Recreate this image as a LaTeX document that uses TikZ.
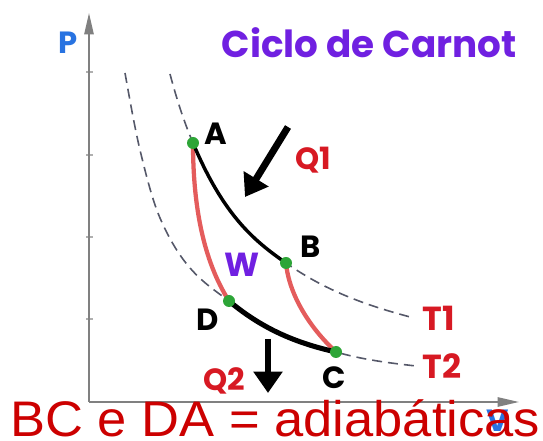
\documentclass[tikz,border=0pt]{standalone}
\usepackage{fontspec}
\setmainfont{Liberation Sans}
\newfontfamily\handfont{Poppins}
\usetikzlibrary{arrows.meta}

\tikzset{every picture/.style={line width=0.75pt}}
\tikzset{
  axisline/.style={color={rgb, 255:red, 128; green, 128; blue, 128}, line width=1.2, -{Triangle[length=16pt,width=7pt]}},
  axistick/.style={color={rgb, 255:red, 175; green, 175; blue, 175}, line width=0.8},
  isotherm/.style={color={rgb, 255:red, 85; green, 88; blue, 105}, line width=1.2, dash pattern={on 7.5pt off 4.5pt}},
  isoline/.style={color={rgb, 255:red, 0; green, 0; blue, 0}, line width=2.6},
  adiabat/.style={color={rgb, 255:red, 228; green, 92; blue, 92}, line width=3.2},
  statedot/.style={fill={rgb, 255:red, 45; green, 165; blue, 55}},
  heatarrow/.style={line width=5.2, -{Triangle[length=16pt,width=21pt]}},
  ptlabel/.style={font=\handfont\bfseries\fontsize{23}{23}\selectfont},
  redlabel/.style={ptlabel, color={rgb, 255:red, 215; green, 25; blue, 35}},
  purplelabel/.style={ptlabel, color={rgb, 255:red, 112; green, 32; blue, 225}},
}

\begin{document}
\begin{tikzpicture}[x=0.75pt,y=0.75pt,yscale=-1,xscale=1]
\useasboundingbox (0,0) rectangle (543,441);

% state points and curve ends
\coordinate (O) at (89,402);
\coordinate (Ptop) at (89,13);
\coordinate (Vend) at (519,402);
\coordinate (A) at (193,143);
\coordinate (B) at (286,263);
\coordinate (C) at (336,352);
\coordinate (D) at (229,301);
\coordinate (T1start) at (170,74);
\coordinate (T1end) at (414,318);
\coordinate (T2start) at (125,73);
\coordinate (T2end) at (416,366);

%Shape: Axis 2D
\foreach \ty in {72,155,237,319} {\draw [axistick] (86,\ty) -- (93,\ty);}
\draw [axisline] (O) -- (Ptop);
\draw [axisline] (O) -- (Vend);

%Curve Lines: isotherm T1
\draw [isotherm] (T1start) .. controls (177.7,103.1) and (185.3,124.8) .. (A) .. controls (224,216.7) and (255,241.3) .. (B) .. controls (328.7,292.9) and (371.3,306.8) .. (T1end) ;
%Curve Lines: isotherm T2
\draw [isotherm] (T2start) .. controls (130,101) and (135,129) .. (140,150) .. controls (146.7,178) and (153.3,202.7) .. (160,218) .. controls (183,270.9) and (206,283.8) .. (D) .. controls (264.7,331) and (300.3,344) .. (C) .. controls (362.7,359.7) and (389.3,363) .. (T2end) ;

%Curve Lines: adiabats
\draw [adiabat] (A) .. controls (193,205) and (203,260) .. (D) ;
\draw [adiabat] (B) .. controls (289,295) and (310,328) .. (C) ;
%Curve Lines: isothermal steps
\draw [isoline] (A) .. controls (224,216.7) and (255,241.3) .. (B) ;
\draw [isoline, line width=3.8] (D) .. controls (264.7,331) and (300.3,344) .. (C) ;

%Shape: Circle
\foreach \pt in {A,B,C,D} {\fill [statedot] (\pt) circle (6);}

%Straight Lines: heat flows
\coordinate (Q1tail) at (288,127);
\coordinate (Q1tip) at (245,197);
\coordinate (Q2tail) at (268,339);
\coordinate (Q2tip) at (268,393);
\draw [heatarrow] (Q1tail) -- (Q1tip);
\draw [heatarrow] (Q2tail) -- (Q2tip);

% Text Node
\node [ptlabel, color={rgb, 255:red, 40; green, 115; blue, 225}] (Plab) at (68,43) {P};
% Text Node
\node [purplelabel, font=\handfont\bfseries\fontsize{28}{28}\selectfont] (title) at (369,43) {Ciclo de Carnot};
% Text Node
\node [ptlabel] (Alab) at (216,134) {A};
% Text Node
\node [ptlabel] (Blab) at (311,247) {B};
% Text Node
\node [ptlabel] (Clab) at (334,378) {C};
% Text Node
\node [ptlabel] (Dlab) at (208,320) {D};
% Text Node
\node [purplelabel, font=\handfont\bfseries\fontsize{25}{25}\selectfont] (Wlab) at (242,265) {W};
% Text Node
\node [redlabel] (Q1lab) at (313,160) {Q1};
% Text Node
\node [redlabel] (Q2lab) at (224,381) {Q2};
% Text Node
\node [redlabel, font=\handfont\bfseries\fontsize{25}{25}\selectfont] (T1lab) at (439,318) {T1};
% Text Node
\node [redlabel, font=\handfont\bfseries\fontsize{25}{25}\selectfont] (T2lab) at (442,366) {T2};
% Text Node
\node [ptlabel, color={rgb, 255:red, 40; green, 115; blue, 225}] (Vlab) at (498,421) {V};
% Text Node
\node [anchor=base west, inner sep=0, xscale=1.05, color={rgb, 255:red, 204; green, 0; blue, 0}, font=\fontsize{37.5}{37.5}\selectfont] (note) at (10,437) {BC e DA = adiabáticas};

\end{tikzpicture}
\end{document}
